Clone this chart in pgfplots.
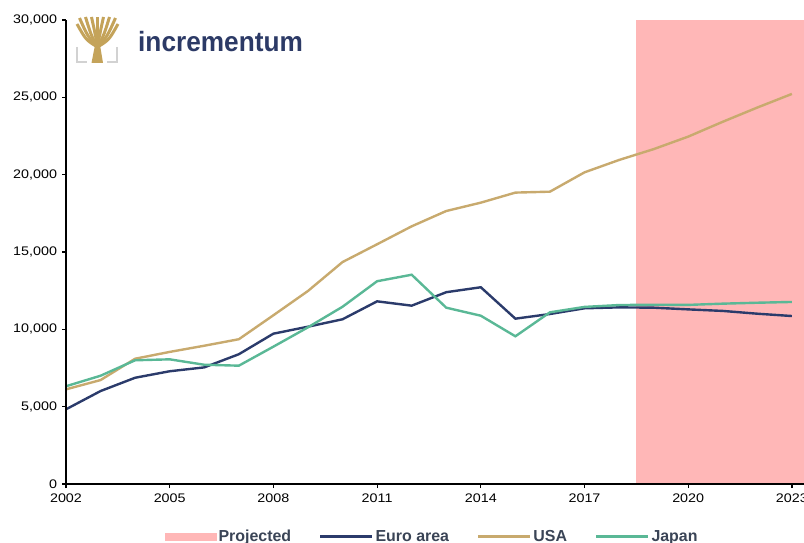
\documentclass[border=0pt]{standalone}
\usepackage{fontspec}
\setmainfont{Liberation Sans}
\newfontfamily\tickfont[FakeStretch=1.15]{Liberation Sans}
\newfontfamily\legfont{Liberation Sans}
\newfontfamily\logofont[FakeStretch=0.94]{Liberation Sans}
\usepackage{pgfplots}
\pgfplotsset{compat=1.18}
\definecolor{projpink}{RGB}{255,183,183}
\definecolor{euronavy}{RGB}{43,59,107}
\definecolor{usagold}{RGB}{200,170,110}
\definecolor{japgreen}{RGB}{90,184,150}
\definecolor{legtext}{RGB}{58,68,86}
\definecolor{logonavy}{RGB}{44,58,102}
\definecolor{logogold}{RGB}{196,163,90}
\definecolor{logogray}{RGB}{210,210,210}
\begin{document}
\begin{tikzpicture}
\useasboundingbox (0,0) rectangle (804bp,543bp);
\begin{axis}[
  at={(66bp,59bp)}, anchor=south west,
  width=738bp, height=464bp, scale only axis,
  xmin=2002, xmax=2023.35, ymin=0, ymax=30000,
  axis x line*=bottom, axis y line*=left,
  axis line style={line width=1.6bp, black, -},
  axis on top,
  xtick={2002,2005,2008,2011,2014,2017,2020,2023},
  ytick={0,5000,10000,15000,20000,25000,30000},
  scaled y ticks=false,
  tick align=outside, major tick length=4bp,
  tick style={line width=1.2bp, black},
  x tick label style={/pgf/number format/1000 sep={}, yshift=-2.5bp},
  y tick label style={/pgf/number format/1000 sep={,}, xshift=-1.5bp},
  /pgf/number format/assume math mode=true,
  ticklabel style={font=\tickfont\fontsize{12.5}{14}\selectfont, black},
  legend columns=4,
  legend style={draw=none, fill=none, at={(0.4960,-0.1133)}, anchor=center,
    font=\legfont\bfseries\fontsize{16}{19}\selectfont, text=legtext,
    /tikz/every even column/.append style={column sep=26bp}},
  legend cell align=left,
]
\addplot[fill=projpink, draw=none,
  legend image code/.code={\fill[projpink] (0bp,-4bp) rectangle (52bp,4bp);}]
  coordinates {(2018.5,30000) (2023.35,30000)} \closedcycle;
\addlegendentry{Projected}
\addplot[euronavy, line width=2.4bp,
  legend image code/.code={\draw[euronavy, line width=2.4bp] (0bp,0bp) -- (52bp,0bp);}]
  coordinates {
(2002,4830) (2003,6010) (2004,6870) (2005,7290) (2006,7540) (2007,8390)
(2008,9720) (2009,10170) (2010,10650) (2011,11810) (2012,11530) (2013,12400)
(2014,12720) (2015,10690) (2016,10990) (2017,11360) (2018,11420) (2019,11400)
(2020,11290) (2021,11190) (2022,11010) (2023,10860)};
\addlegendentry{Euro area}
\addplot[usagold, line width=2.4bp,
  legend image code/.code={\draw[usagold, line width=2.4bp] (0bp,0bp) -- (52bp,0bp);}]
  coordinates {
(2002,6120) (2003,6720) (2004,8100) (2005,8540) (2006,8940) (2007,9360)
(2008,10910) (2009,12480) (2010,14350) (2011,15500) (2012,16660) (2013,17650)
(2014,18190) (2015,18840) (2016,18900) (2017,20150) (2018,20950) (2019,21650)
(2020,22460) (2021,23420) (2022,24340) (2023,25220)};
\addlegendentry{USA}
\addplot[japgreen, line width=2.4bp,
  legend image code/.code={\draw[japgreen, line width=2.4bp] (0bp,0bp) -- (52bp,0bp);}]
  coordinates {
(2002,6320) (2003,7000) (2004,8000) (2005,8060) (2006,7710) (2007,7650)
(2008,8880) (2009,10130) (2010,11460) (2011,13110) (2012,13530) (2013,11400)
(2014,10880) (2015,9550) (2016,11100) (2017,11450) (2018,11570) (2019,11590)
(2020,11580) (2021,11660) (2022,11720) (2023,11770)};
\addlegendentry{Japan}
\end{axis}
% logo: tree
\fill[logogold] (91.5bp,480bp) -- (103bp,480bp) -- (100bp,498bp) -- (95bp,498bp) -- cycle;
\foreach \tx/\ty/\cx/\cy in {77/519/86/503, 79.5/525/88/506, 85.5/526/91/508, 91.5/526/95/510,
  97.5/526/97.5/510, 103.5/526/100/510, 109.5/526/104/508, 115.5/525/107/506, 118/519/109/503}
  \draw[logogold, line width=3bp] (97.5bp,496bp) .. controls (\cx bp,\cy bp) .. (\tx bp,\ty bp);
\draw[logogray, line width=2.5bp] (77bp,496bp) -- (77bp,481bp) -- (87bp,481bp);
\draw[logogray, line width=2.5bp] (117bp,496bp) -- (117bp,481bp) -- (107bp,481bp);
\node[anchor=base west, inner sep=0pt, text=logonavy,
  font=\logofont\bfseries\fontsize{28}{32}\selectfont] at (138bp,491.3bp) {incrementum};
\end{tikzpicture}
\end{document}
